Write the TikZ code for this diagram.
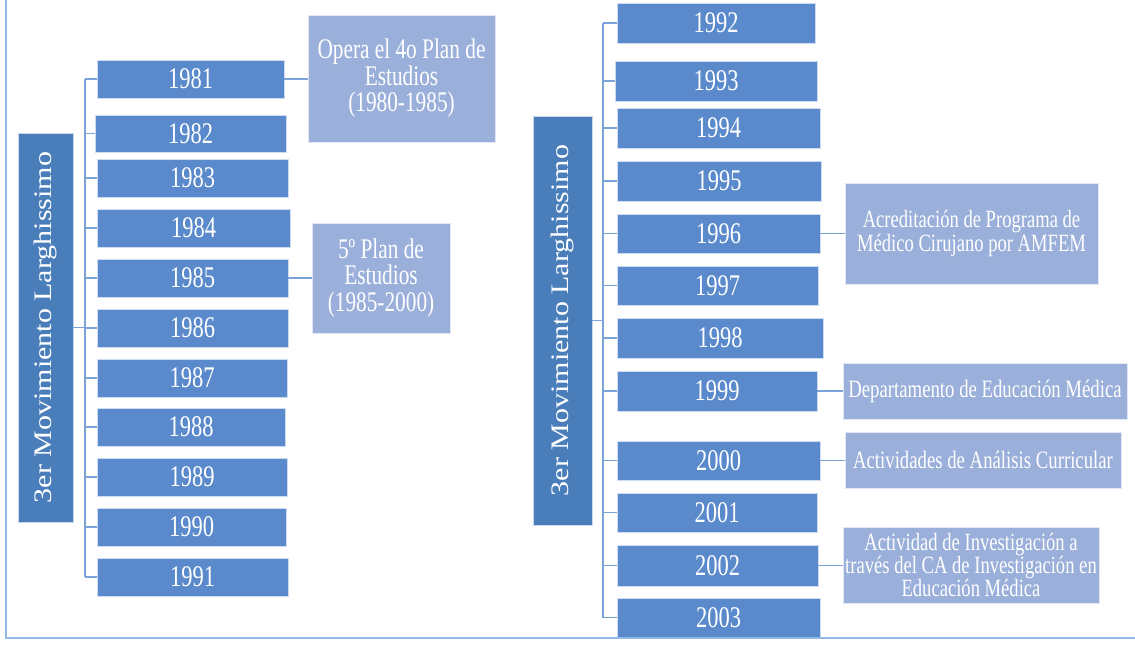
\documentclass[tikz,border=0pt]{standalone}
\usepackage{fontspec}
\setmainfont{Liberation Serif}[FakeStretch=0.75]
\newfontfamily\rotfont{Liberation Serif}
\usepackage{graphicx}
\definecolor{yrblue}{HTML}{5A8ACB}
\definecolor{darkblue}{HTML}{4A7EBB}
\definecolor{lightblue}{HTML}{9AAFD9}
\definecolor{linecol}{HTML}{7BA3DA}
\definecolor{framecol}{HTML}{95B9E6}
\tikzset{
  yr/.style={rectangle, fill=yrblue, draw=white!70!yrblue, line width=0.6pt, inner sep=0pt, text=white,
    font=\fontsize{30}{30}\selectfont},
  darkbox/.style={rectangle, fill=darkblue, draw=white!70!darkblue, line width=0.6pt, inner sep=0pt, text=white},
  note/.style={rectangle, fill=lightblue, draw=white!70!lightblue, line width=0.6pt, inner sep=0pt, text=white, align=center},
  conn/.style={draw=linecol, line width=1.4pt},
  frameline/.style={draw=framecol, line width=1.6pt}
}
\begin{document}
\begin{tikzpicture}[x=1pt,y=-1pt]
\useasboundingbox (0,0) rectangle (1135,645);
% ---------- left tree ----------
\node[darkbox, minimum width=55pt, minimum height=389pt] (m1) at (45.5,327.5)
  {\rotatebox{90}{\scalebox{1}[0.84]{\rotfont\fontsize{30}{30}\selectfont 3er Movimiento Larghissimo}}};
\node[yr, minimum width=187pt, minimum height=38pt] (y1981) at (190.5,79) {1981};
\node[yr, minimum width=191pt, minimum height=37pt] (y1982) at (190.5,133.5) {1982};
\node[yr, minimum width=191pt, minimum height=38pt] (y1983) at (192.5,178) {1983};
\node[yr, minimum width=193pt, minimum height=38pt] (y1984) at (193.5,228) {1984};
\node[yr, minimum width=191pt, minimum height=38pt] (y1985) at (192.5,278) {1985};
\node[yr, minimum width=191pt, minimum height=38pt] (y1986) at (192.5,328) {1986};
\node[yr, minimum width=190pt, minimum height=38pt] (y1987) at (192,378) {1987};
\node[yr, minimum width=188pt, minimum height=38pt] (y1988) at (191,427) {1988};
\node[yr, minimum width=190pt, minimum height=38pt] (y1989) at (192,477) {1989};
\node[yr, minimum width=189pt, minimum height=38pt] (y1990) at (191.5,527) {1990};
\node[yr, minimum width=191pt, minimum height=38pt] (y1991) at (192.5,577) {1991};
\coordinate (tA) at (85,0);
\draw[conn] (m1.east) -- (m1.east -| tA);
\draw[conn] (tA |- y1981.west) -- (tA |- y1991.west);
\foreach \n in {1981,1982,1983,1984,1985,1986,1987,1988,1989,1990,1991}
  \draw[conn] (tA |- y\n.west) -- (y\n.west);
\node[note, minimum width=187pt, minimum height=127pt, font=\fontsize{28.4}{26.5}\selectfont] (L1) at (401.5,78.5)
  {Opera el 4o Plan de\\Estudios\\(1980-1985)};
\node[note, minimum width=138pt, minimum height=110pt, font=\fontsize{28.4}{26.5}\selectfont] (L2) at (381,278)
  {5º Plan de\\Estudios\\(1985-2000)};
\draw[conn] (y1981.east) -- (y1981.east -| L1.west);
\draw[conn] (y1985.east) -- (y1985.east -| L2.west);
% ---------- right tree ----------
\node[darkbox, minimum width=59pt, minimum height=409pt] (m2) at (562.5,320.5)
  {\rotatebox{90}{\scalebox{1}[0.84]{\rotfont\fontsize{30}{30}\selectfont 3er Movimiento Larghissimo}}};
\node[yr, minimum width=198pt, minimum height=40pt] (y1992) at (716,23) {1992};
\node[yr, minimum width=202pt, minimum height=40pt] (y1993) at (716,81) {1993};
\node[yr, minimum width=203pt, minimum height=40pt] (y1994) at (718.5,128) {1994};
\node[yr, minimum width=204pt, minimum height=40pt] (y1995) at (719,181) {1995};
\node[yr, minimum width=203pt, minimum height=39pt] (y1996) at (718.5,233.5) {1996};
\node[yr, minimum width=201pt, minimum height=39pt] (y1997) at (717.5,285.5) {1997};
\node[yr, minimum width=206pt, minimum height=40pt] (y1998) at (720,338) {1998};
\node[yr, minimum width=200pt, minimum height=40pt] (y1999) at (717,391) {1999};
\node[yr, minimum width=203pt, minimum height=39pt] (y2000) at (718.5,460.5) {2000};
\node[yr, minimum width=200pt, minimum height=39pt] (y2001) at (717,512.5) {2001};
\node[yr, minimum width=201pt, minimum height=41pt] (y2002) at (717.5,565.5) {2002};
\node[yr, minimum width=203pt, minimum height=39pt] (y2003) at (718.5,617.5) {2003};
\coordinate (tB) at (603,0);
\draw[conn] (m2.east) -- (m2.east -| tB);
\draw[conn] (tB |- y1992.west) -- (tB |- y2003.west);
\foreach \n in {1992,1993,1994,1995,1996,1997,1998,1999,2000,2001,2002,2003}
  \draw[conn] (tB |- y\n.west) -- (y\n.west);
\node[note, minimum width=253pt, minimum height=101pt, font=\fontsize{24.8}{24}\selectfont] (R1) at (971.5,233.5)
  {Acreditación de Programa de\\Médico Cirujano por AMFEM};
\node[note, minimum width=284pt, minimum height=56pt, font=\fontsize{25}{24}\selectfont] (R2) at (985,391)
  {Departamento de Educación Médica};
\node[note, minimum width=276pt, minimum height=56pt, font=\fontsize{25}{24}\selectfont] (R3) at (983,460)
  {Actividades de Análisis Curricular};
\node[note, minimum width=256pt, minimum height=76pt, font=\fontsize{24.8}{23}\selectfont] (R4) at (971,565)
  {Actividad de Investigación a\\través del CA de Investigación en\\Educación Médica};
\draw[conn] (y1996.east) -- (y1996.east -| R1.west);
\draw[conn] (y1999.east) -- (y1999.east -| R2.west);
\draw[conn] (y2000.east) -- (y2000.east -| R3.west);
\draw[conn] (y2002.east) -- (y2002.east -| R4.west);
% ---------- frame ----------
\coordinate (fTop) at (6,0);
\coordinate (fCorner) at (6,638);
\coordinate (fRight) at (1135,638);
\draw[frameline] (fTop) -- (fCorner) -- (fRight);
\end{tikzpicture}
\end{document}
